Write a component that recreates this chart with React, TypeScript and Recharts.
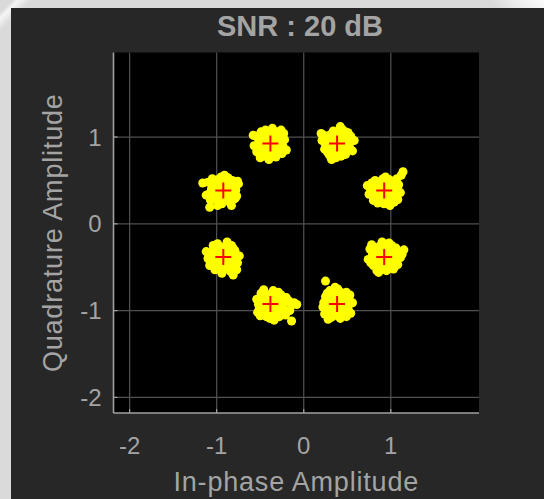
import React from 'react';
import { ScatterChart, Scatter, XAxis, YAxis, ZAxis, CartesianGrid, Label } from 'recharts';

// Ideal 8-PSK reference constellation (in-phase / quadrature)
const idealI = [0.924, 0.383, -0.383, -0.924, -0.924, -0.383, 0.383, 0.924];
const idealQ = [0.383, 0.924, 0.924, 0.383, -0.383, -0.924, -0.924, -0.383];

const xTicks = [-2, -1, 0, 1];
const yTicks = [-2, -1, 0, 1];

// Received symbols around each constellation point
const symbolsA: [number, number][] = [
  [0.95, 0.46], [0.83, 0.36], [1.03, 0.42], [0.88, 0.26], [0.98, 0.51], [0.79, 0.43], [1.06, 0.32], [0.92, 0.39],
  [0.86, 0.48], [0.97, 0.29], [1.09, 0.45], [0.90, 0.33], [1.00, 0.37], [0.81, 0.30], [0.94, 0.54], [1.04, 0.25],
  [0.77, 0.38], [0.91, 0.44], [1.01, 0.41], [0.85, 0.24], [1.11, 0.36], [0.87, 0.41], [0.96, 0.34], [0.82, 0.50],
  [1.05, 0.49], [0.75, 0.34], [0.99, 0.21], [0.89, 0.37], [1.07, 0.52], [0.93, 0.31], [0.84, 0.45], [1.02, 0.47],
  [0.80, 0.27], [0.95, 0.35], [0.86, 0.40], [1.12, 0.56], [1.08, 0.28], [0.90, 0.49], [0.98, 0.44], [0.78, 0.47],
  [1.01, 0.31], [0.88, 0.30], [0.92, 0.23], [1.14, 0.60], [0.73, 0.44], [0.97, 0.39], [0.83, 0.33], [1.04, 0.40],
  [0.91, 0.52], [1.00, 0.26],
];
const symbolsB: [number, number][] = [
  [0.36, 0.97], [0.45, 0.89], [0.28, 1.01], [0.42, 1.04], [0.32, 0.85], [0.50, 0.94], [0.39, 0.81], [0.25, 0.91],
  [0.47, 1.00], [0.34, 1.07], [0.53, 0.87], [0.30, 0.95], [0.41, 0.90], [0.37, 0.76], [0.48, 0.80], [0.23, 1.02],
  [0.44, 1.09], [0.27, 0.83], [0.51, 1.05], [0.38, 0.98], [0.33, 0.88], [0.46, 0.92], [0.21, 0.96], [0.40, 0.84],
  [0.49, 0.99], [0.31, 1.03], [0.43, 0.78], [0.35, 0.93], [0.54, 1.01], [0.29, 0.80], [0.52, 0.91], [0.26, 0.98],
  [0.45, 0.96], [0.37, 0.87], [0.42, 1.12], [0.32, 0.74], [0.56, 0.84], [0.24, 0.86], [0.47, 0.88], [0.41, 1.01],
  [0.20, 1.04], [0.48, 1.06], [0.34, 0.91], [0.44, 0.82], [0.28, 0.94], [0.39, 0.95], [0.58, 0.96], [0.31, 0.77],
  [0.50, 0.86], [0.36, 1.02],
];
const symbolsC: [number, number][] = [
  [-0.33, 0.89], [-0.46, 0.98], [-0.26, 1.02], [-0.41, 0.83], [-0.50, 0.93], [-0.30, 1.06], [-0.38, 0.79], [-0.53, 0.86],
  [-0.35, 0.96], [-0.44, 1.08], [-0.24, 0.90], [-0.48, 0.81], [-0.31, 1.00], [-0.39, 0.92], [-0.28, 0.84], [-0.55, 1.01],
  [-0.36, 1.10], [-0.43, 0.88], [-0.22, 0.97], [-0.47, 1.04], [-0.32, 0.77], [-0.51, 0.95], [-0.27, 0.94], [-0.40, 0.74],
  [-0.34, 1.03], [-0.45, 0.91], [-0.25, 0.81], [-0.54, 0.83], [-0.37, 0.99], [-0.42, 0.95], [-0.29, 0.87], [-0.49, 1.06],
  [-0.23, 1.04], [-0.46, 0.78], [-0.38, 1.01], [-0.57, 0.90], [-0.32, 0.93], [-0.41, 1.05], [-0.20, 0.85], [-0.52, 0.98],
  [-0.30, 0.89], [-0.44, 0.85], [-0.35, 0.82], [-0.58, 1.02], [-0.26, 1.08], [-0.39, 0.88], [-0.28, 0.98], [-0.47, 0.90],
  [-0.34, 0.86], [-0.50, 0.76],
];
const symbolsD: [number, number][] = [
  [-0.96, 0.44], [-0.83, 0.37], [-1.03, 0.31], [-0.90, 0.49], [-0.79, 0.41], [-0.99, 0.26], [-0.87, 0.53], [-1.06, 0.40],
  [-0.92, 0.33], [-0.81, 0.28], [-1.01, 0.47], [-0.85, 0.44], [-0.94, 0.23], [-1.08, 0.35], [-0.77, 0.32], [-0.89, 0.39],
  [-0.98, 0.51], [-0.82, 0.50], [-1.04, 0.37], [-0.86, 0.30], [-0.93, 0.42], [-0.75, 0.46], [-1.00, 0.29], [-0.91, 0.56],
  [-1.10, 0.48], [-0.80, 0.35], [-0.95, 0.36], [-0.84, 0.24], [-1.02, 0.42], [-0.88, 0.46], [-0.97, 0.32], [-0.78, 0.39],
  [-1.05, 0.52], [-0.83, 0.21], [-0.93, 0.48], [-0.99, 0.21], [-0.76, 0.49], [-1.07, 0.27], [-0.89, 0.27], [-1.01, 0.39],
  [-0.86, 0.41], [-0.95, 0.54], [-0.81, 0.44], [-1.12, 0.33], [-1.16, 0.47], [-1.08, 0.19], [-0.92, 0.38], [-0.85, 0.34],
  [-1.03, 0.46], [-0.79, 0.29],
];
const symbolsE: [number, number][] = [
  [-0.89, -0.34], [-1.00, -0.44], [-0.82, -0.47], [-0.94, -0.27], [-1.05, -0.36], [-0.85, -0.31], [-0.92, -0.52], [-0.97, -0.39],
  [-0.78, -0.35], [-1.03, -0.29], [-0.87, -0.42], [-1.08, -0.48], [-0.83, -0.25], [-0.95, -0.46], [-0.80, -0.40], [-0.99, -0.23],
  [-0.91, -0.38], [-1.02, -0.53], [-0.76, -0.45], [-0.93, -0.32], [-0.86, -0.50], [-1.06, -0.33], [-0.81, -0.28], [-0.98, -0.41],
  [-0.88, -0.21], [-1.10, -0.40], [-0.84, -0.55], [-0.96, -0.30], [-0.79, -0.31], [-1.01, -0.49], [-0.90, -0.44], [-1.04, -0.25],
  [-0.74, -0.37], [-0.94, -0.57], [-0.85, -0.36], [-1.07, -0.45], [-0.82, -0.51], [-0.97, -0.26], [-0.92, -0.41], [-0.77, -0.53],
  [-1.00, -0.35], [-0.88, -0.47], [-1.12, -0.32], [-0.80, -0.34], [-0.81, -0.59], [-0.95, -0.37], [-0.86, -0.29], [-1.03, -0.42],
  [-0.83, -0.43], [-0.98, -0.51],
];
const symbolsF: [number, number][] = [
  [-0.41, -0.90], [-0.32, -0.97], [-0.48, -0.84], [-0.36, -1.04], [-0.27, -0.88], [-0.45, -1.00], [-0.29, -0.79], [-0.52, -0.93],
  [-0.38, -0.86], [-0.23, -1.01], [-0.43, -0.81], [-0.34, -0.94], [-0.50, -1.06], [-0.30, -0.83], [-0.39, -1.09], [-0.25, -0.92],
  [-0.47, -0.89], [-0.20, -0.85], [-0.44, -0.96], [-0.35, -0.77], [-0.54, -0.87], [-0.28, -1.07], [-0.40, -0.98], [-0.31, -0.91],
  [-0.49, -0.80], [-0.24, -0.96], [-0.37, -1.01], [-0.46, -0.76], [-0.17, -0.89], [-0.42, -1.03], [-0.33, -0.85], [-0.51, -0.98],
  [-0.26, -0.82], [-0.39, -0.90], [-0.14, -0.94], [-0.45, -0.86], [-0.29, -1.03], [-0.53, -1.02], [-0.11, -0.91], [-0.34, -1.11],
  [-0.41, -0.82], [-0.21, -1.05], [-0.38, -0.96], [-0.48, -0.94], [-0.08, -0.93], [-0.16, -1.00], [-0.32, -0.88], [-0.43, -1.07],
  [-0.27, -0.98], [-0.50, -0.91], [-0.14, -1.12],
];
const symbolsG: [number, number][] = [
  [0.40, -0.96], [0.31, -0.89], [0.47, -0.85], [0.35, -1.02], [0.50, -0.93], [0.28, -0.98], [0.43, -0.81], [0.37, -0.90],
  [0.45, -1.05], [0.25, -0.84], [0.52, -0.87], [0.33, -1.07], [0.41, -0.78], [0.29, -0.94], [0.48, -1.00], [0.23, -0.91],
  [0.38, -0.98], [0.44, -0.83], [0.34, -0.86], [0.54, -1.03], [0.27, -0.80], [0.46, -0.92], [0.32, -1.01], [0.39, -0.75],
  [0.49, -0.79], [0.24, -1.04], [0.42, -1.09], [0.36, -0.83], [0.51, -0.97], [0.30, -0.77], [0.22, -0.96], [0.47, -0.89],
  [0.35, -0.93], [0.43, -0.99], [0.26, -0.88], [0.53, -0.82], [0.31, -1.08], [0.40, -0.87], [0.37, -1.03], [0.56, -0.91],
  [0.28, -1.10], [0.44, -0.94], [0.25, -0.66], [0.36, -0.73], [0.49, -1.07], [0.33, -0.92], [0.45, -0.80], [0.29, -0.83],
  [0.41, -1.01], [0.50, -0.86],
];
const symbolsH: [number, number][] = [
  [0.89, -0.33], [1.00, -0.40], [0.83, -0.46], [0.96, -0.28], [1.04, -0.37], [0.86, -0.51], [0.93, -0.24], [0.79, -0.35],
  [0.98, -0.44], [0.91, -0.48], [1.02, -0.30], [0.81, -0.27], [1.07, -0.42], [0.88, -0.39], [0.95, -0.54], [0.77, -0.45],
  [1.01, -0.25], [0.85, -0.31], [1.05, -0.49], [0.92, -0.36], [0.82, -0.41], [0.99, -0.33], [0.90, -0.21], [1.09, -0.32],
  [0.84, -0.54], [0.97, -0.47], [0.76, -0.29], [1.03, -0.52], [0.87, -0.26], [0.94, -0.42], [1.11, -0.39], [0.80, -0.48],
  [0.98, -0.22], [0.89, -0.44], [1.06, -0.28], [0.83, -0.37], [1.13, -0.35], [0.86, -0.56], [1.00, -0.45], [0.78, -0.24],
  [0.96, -0.35], [0.91, -0.52], [1.08, -0.47], [0.81, -0.39], [1.15, -0.30], [1.03, -0.33], [0.85, -0.42], [0.94, -0.29],
  [1.01, -0.50], [0.74, -0.41],
];

const received = [
  ...symbolsA, ...symbolsB, ...symbolsC, ...symbolsD,
  ...symbolsE, ...symbolsF, ...symbolsG, ...symbolsH,
].map(([i, q]) => ({ i, q }));

const reference = idealI.map((i, k) => ({ i, q: idealQ[k] }));

const TEXT = '#a4a4a4';
const BOX = '#a0a0a0';
const FONT = '"Liberation Sans", Arial, Helvetica, sans-serif';

const PlusMarker = (props: any) => {
  const { cx, cy } = props;
  const h = 8;
  return (
    <g>
      <line x1={cx - h} x2={cx + h} y1={cy} y2={cy} stroke="#ff0000" strokeWidth={2} />
      <line x1={cx} x2={cx} y1={cy - h} y2={cy + h} stroke="#ff0000" strokeWidth={2} />
    </g>
  );
};

export default function App() {
  return (
    <div
      style={{
        position: 'absolute',
        left: 0,
        top: 0,
        width: 544,
        height: 499,
        overflow: 'hidden',
        fontFamily: FONT,
        background:
          'linear-gradient(135deg, #dadada 0px, #dadada 9px, #f6f6f6 13px, #dadada 22px, rgba(218,218,218,0) 23px), linear-gradient(225deg, #fbfbfb 0px, #ececec 22px, #dadada 38px)',
      }}
    >
      <div style={{ position: 'absolute', left: 11, top: 8, width: 533, height: 491, background: '#272727' }} />
      <div
        style={{
          position: 'absolute',
          left: 100,
          top: 12,
          width: 400,
          textAlign: 'center',
          fontSize: 29,
          lineHeight: '29px',
          fontWeight: 'bold',
          color: TEXT,
        }}
      >
        SNR : 20 dB
      </div>
      <div style={{ position: 'absolute', left: 0, top: 0 }}>
        <ScatterChart width={544} height={499} margin={{ top: 52.5, right: 65, bottom: 0, left: 0 }}>
          <CartesianGrid stroke="#515151" strokeWidth={1.2} fill="#000000" horizontalValues={yTicks} verticalValues={xTicks} />
          <XAxis
            type="number"
            dataKey="i"
            domain={[-2.185, 2.013]}
            ticks={xTicks}
            allowDataOverflow
            height={86}
            axisLine={{ stroke: BOX, strokeWidth: 1.6 }}
            tickLine={{ stroke: BOX, strokeWidth: 1.2 }}
            tickSize={-4}
            tickMargin={28}
            tick={{ fill: TEXT, fontSize: 24 }}
          >
            <Label value="In-phase Amplitude" position="insideBottom" offset={8.5} fill={TEXT} fontSize={27} style={{ letterSpacing: '0.8px' }} />
          </XAxis>
          <XAxis
            xAxisId="top"
            orientation="top"
            type="number"
            dataKey="i"
            domain={[-2.185, 2.013]}
            ticks={xTicks}
            allowDataOverflow
            height={0}
            axisLine={{ stroke: BOX, strokeWidth: 1.6 }}
            tickLine={{ stroke: BOX, strokeWidth: 1.2 }}
            tickSize={-4}
            tick={false}
          />
          <YAxis
            type="number"
            dataKey="q"
            domain={[-2.18, 1.974]}
            ticks={yTicks}
            allowDataOverflow
            width={113.5}
            axisLine={{ stroke: BOX, strokeWidth: 1.6 }}
            tickLine={{ stroke: BOX, strokeWidth: 1.2 }}
            tickSize={-4}
            tickMargin={16}
            tick={{ fill: TEXT, fontSize: 24 }}
          >
            <Label
              value="Quadrature Amplitude"
              angle={-90}
              position="insideLeft"
              offset={52.5}
              fill={TEXT}
              fontSize={27}
              style={{ textAnchor: 'middle', letterSpacing: '0.8px' }}
            />
          </YAxis>
          <YAxis
            yAxisId="right"
            orientation="right"
            type="number"
            dataKey="q"
            domain={[-2.18, 1.974]}
            ticks={yTicks}
            allowDataOverflow
            width={0}
            axisLine={{ stroke: BOX, strokeWidth: 1.6 }}
            tickLine={{ stroke: BOX, strokeWidth: 1.2 }}
            tickSize={-4}
            tick={false}
          />
          <ZAxis range={[16, 16]} />
          <Scatter data={received} fill="#ffff00" isAnimationActive={false} />
          <Scatter data={reference} shape={<PlusMarker />} isAnimationActive={false} />
        </ScatterChart>
      </div>
    </div>
  );
}
